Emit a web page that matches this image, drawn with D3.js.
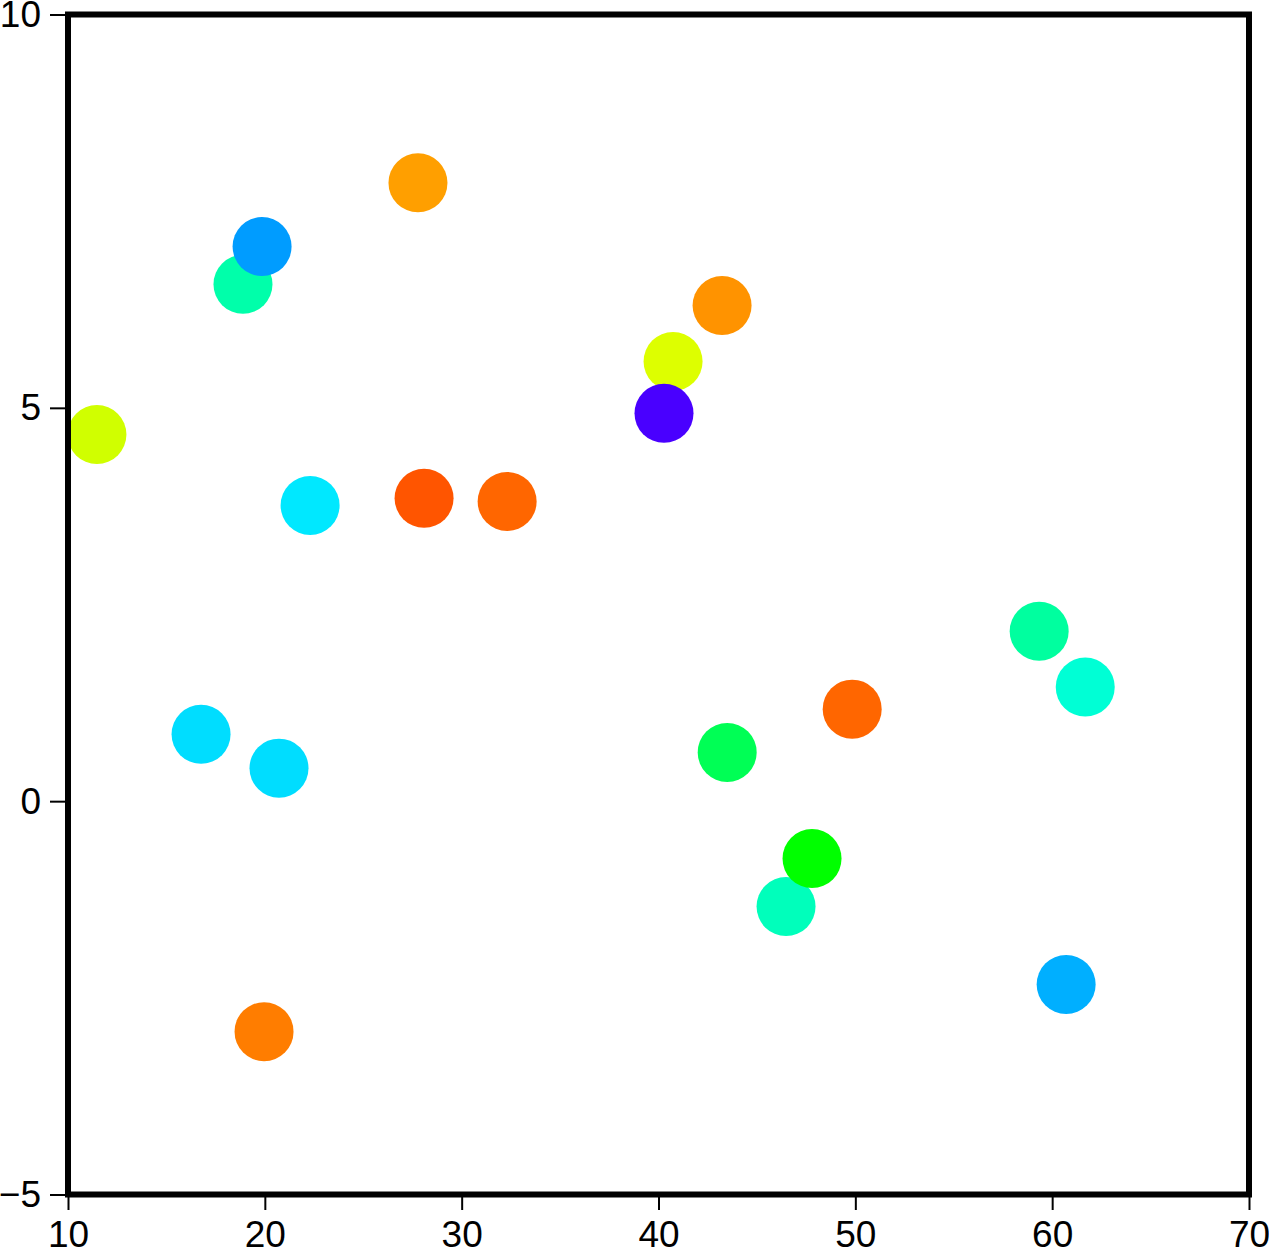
<!DOCTYPE html>
<html>
<head>
<meta charset="utf-8">
<script src="https://cdn.jsdelivr.net/npm/d3@7"></script>
<style>
  html, body { margin: 0; padding: 0; background: #fff; }
  svg { display: block; }
</style>
</head>
<body>
<svg id="chart" width="1269" height="1249"></svg>
<script>
// Data (order matters for overlaps)
const xValues = [11.47, 18.89, 19.86, 27.78, 22.30, 28.09, 32.31, 40.74, 40.28, 43.23, 16.76, 20.72, 19.96, 43.49, 49.84, 46.48, 47.80, 59.34, 61.68, 60.71];
const yValues = [4.66, 6.57, 7.05, 7.86, 3.76, 3.85, 3.81, 5.59, 4.93, 6.30, 0.85, 0.42, -2.93, 0.62, 1.17, -1.34, -0.73, 2.16, 1.45, -2.33];
const zValues = [0.763, 0.467, 0.322, 0.875, 0.382, 0.933, 0.92, 0.773, 0.143, 0.885, 0.373, 0.373, 0.902, 0.533, 0.92, 0.453, 0.6, 0.475, 0.433, 0.337];
const xTicks = [10, 20, 30, 40, 50, 60, 70];
const yTicks = [-5, 0, 5, 10];
const xDomain = [10, 70];
const yDomain = [-5, 10];
const cmapStops = [0, 0.2, 0.4, 0.6, 0.8, 1];
const cmapColors = ["#ff00ff", "#0000ff", "#00ffff", "#00ff00", "#ffff00", "#ff0000"];

(function () {
  const points = xValues.map((x, i) => ({ x, y: yValues[i], z: zValues[i] }));

  const svg = d3.select("#chart");
  const mLeft = 68, mRight = 1249, mTop = 14.5, mBottom = 1194.5;
  const font = "'Liberation Sans', Arial, Helvetica, sans-serif";

  const x = d3.scaleLinear().domain(xDomain).range([mLeft, mRight]);
  const y = d3.scaleLinear().domain(yDomain).range([mBottom, mTop]);
  const color = d3.scaleLinear().domain(cmapStops).range(cmapColors).interpolate(d3.interpolateRgb);

  // Axes
  const xAxis = svg.append("g")
    .attr("transform", `translate(0,${mBottom})`)
    .call(d3.axisBottom(x).tickValues(xTicks).tickSize(15.5).tickPadding(11).tickFormat(d3.format("d")));
  const yAxis = svg.append("g")
    .attr("transform", `translate(${mLeft},0)`)
    .call(d3.axisLeft(y).tickValues(yTicks).tickSize(18).tickPadding(9)
      .tickFormat(d => (d < 0 ? "\u2212" + Math.abs(d) : String(d))));

  [xAxis, yAxis].forEach(g => {
    g.select(".domain").remove();
    g.selectAll(".tick line").attr("stroke", "#000").attr("stroke-width", 2);
    g.selectAll(".tick text")
      .attr("fill", "#000")
      .style("font-family", font)
      .style("font-size", "37px");
  });

  // Points
  svg.append("g")
    .selectAll("circle")
    .data(points)
    .join("circle")
    .attr("cx", d => x(d.x))
    .attr("cy", d => y(d.y))
    .attr("r", 29.5)
    .attr("fill", d => color(d.z));

  // Frame
  svg.append("rect")
    .attr("x", mLeft).attr("y", mTop)
    .attr("width", mRight - mLeft).attr("height", mBottom - mTop)
    .attr("fill", "none")
    .attr("stroke", "#000")
    .attr("stroke-width", 6);
})();
</script>
</body>
</html>
